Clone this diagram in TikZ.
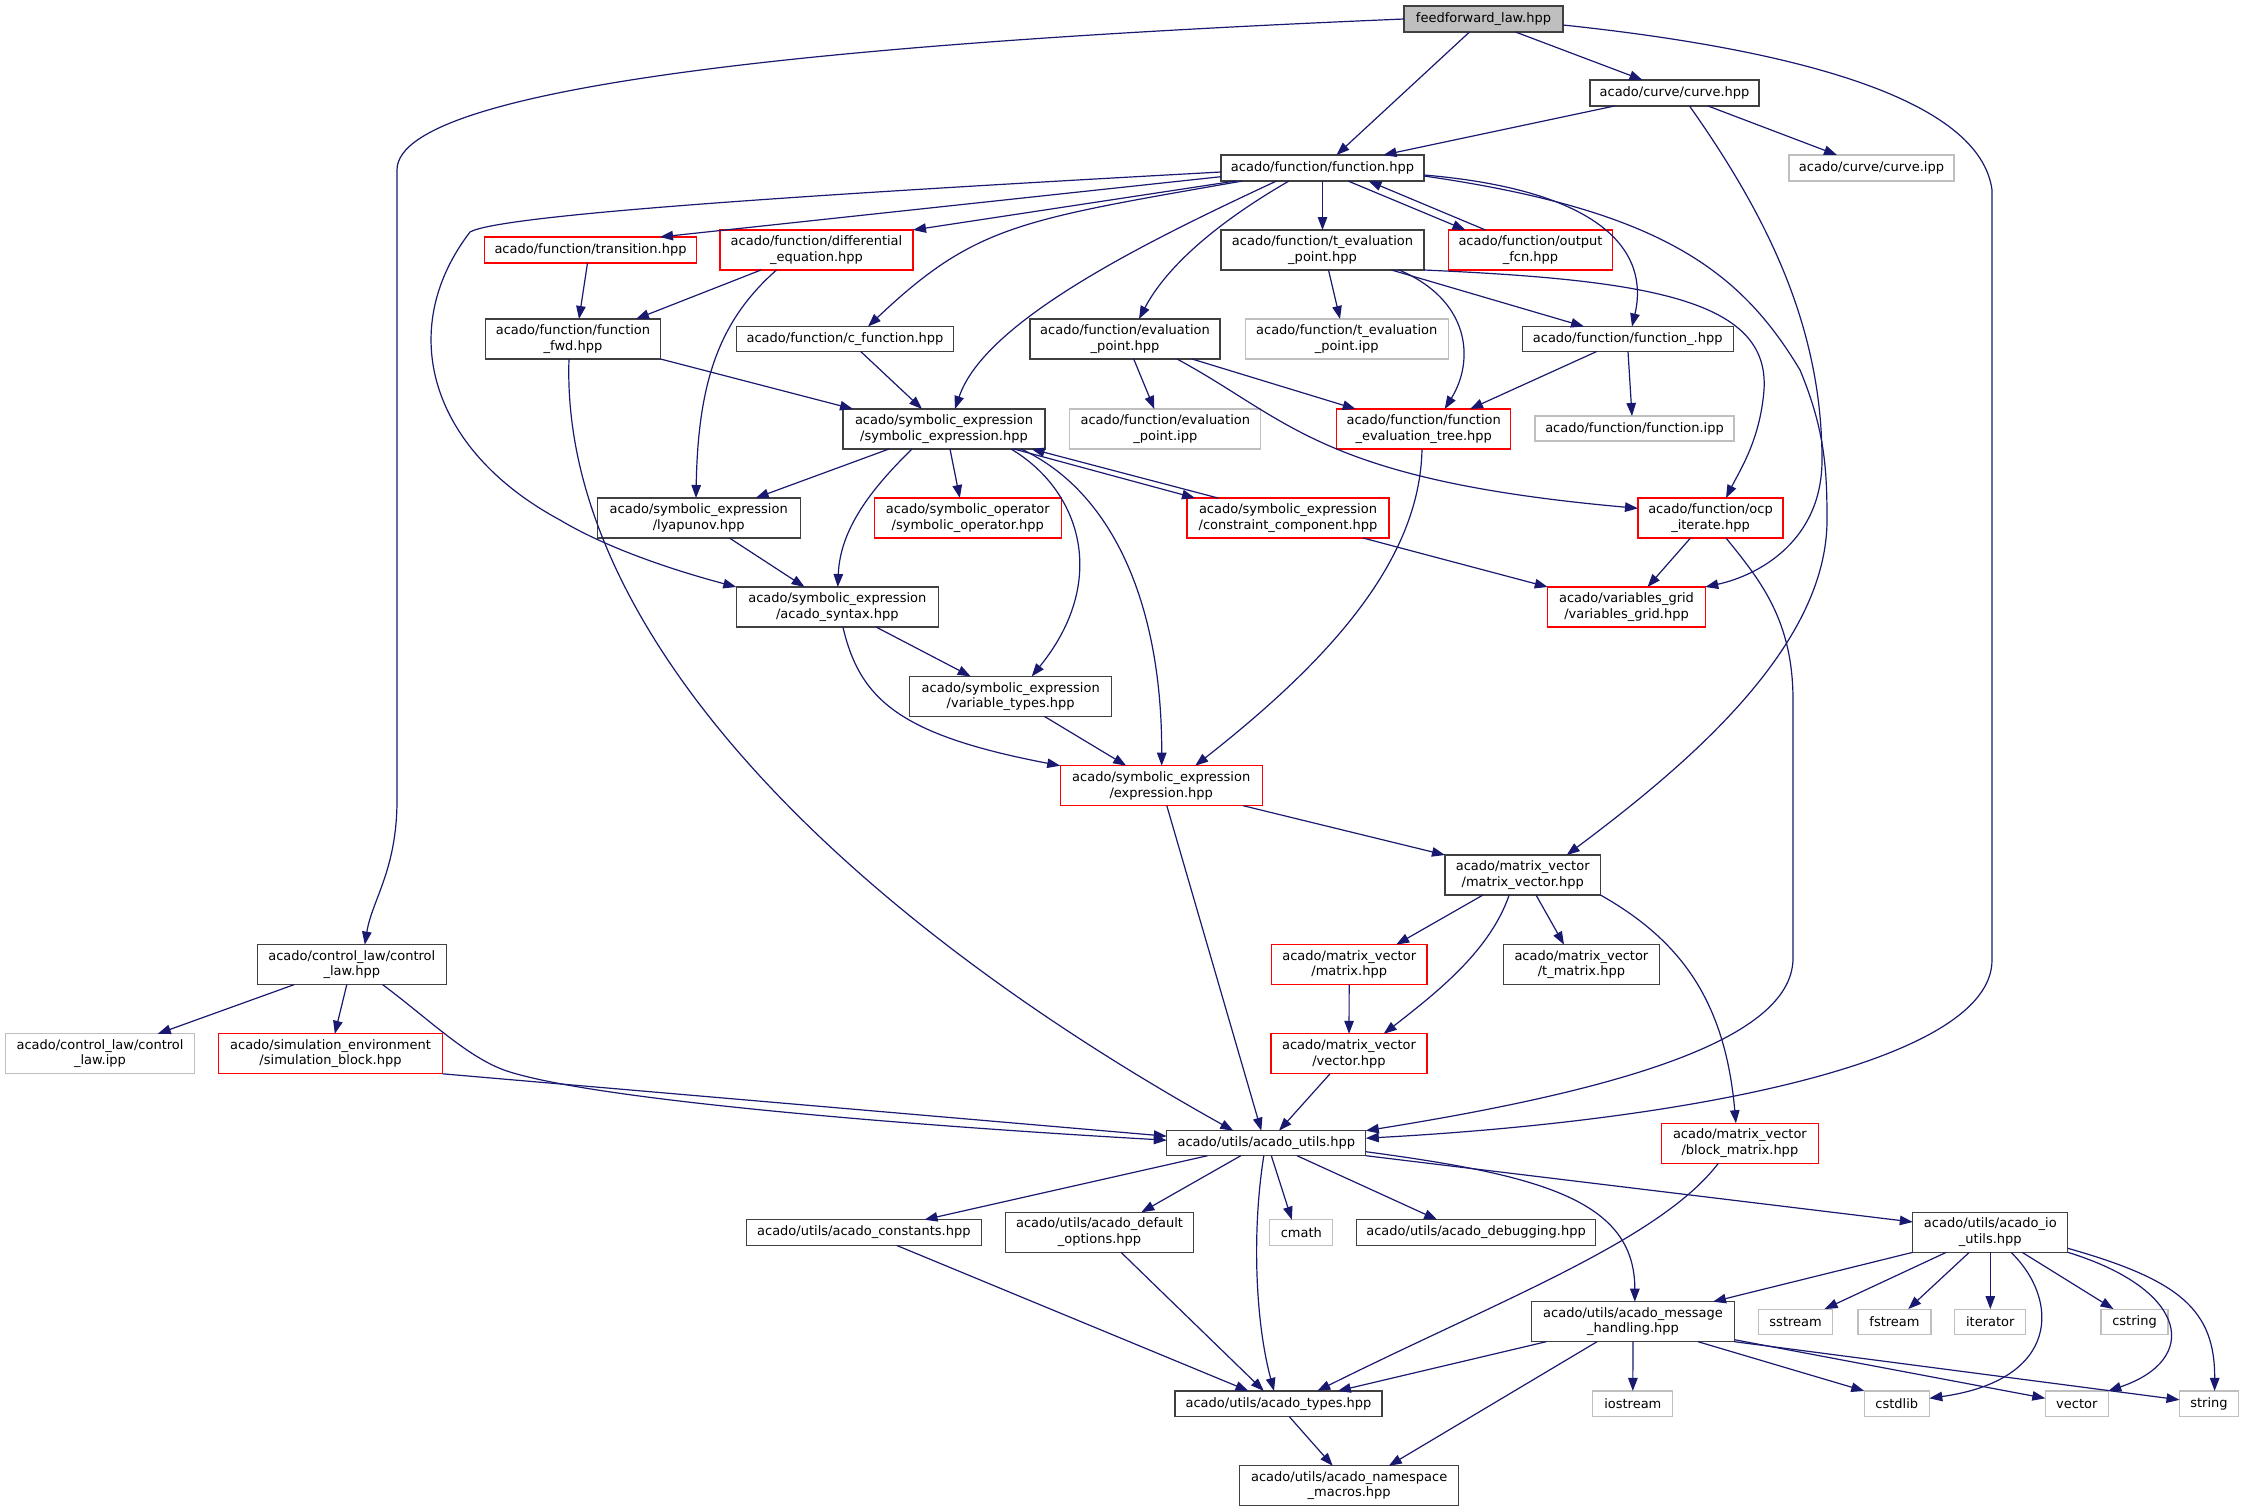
\documentclass[tikz,border=0pt]{standalone}
\usepackage{fontspec}
\setmainfont{DejaVu Sans}
\usetikzlibrary{arrows.meta}
\definecolor{edgec}{HTML}{191970}
\definecolor{greyc}{HTML}{BFBFBF}
\definecolor{bordc}{HTML}{404040}
\begin{document}
\begin{tikzpicture}[x=1pt,y=-1pt,
 box/.style 2 args={draw=bordc, fill=white, rectangle, line width=1.1pt, inner sep=0pt, outer sep=0pt, align=center, minimum width=#1, minimum height=#2, font=\fontsize{13}{15.5}\selectfont},
 nb/.style 2 args={box={#1}{#2}},
 nr/.style 2 args={box={#1}{#2}, draw=red},
 ng/.style 2 args={box={#1}{#2}, draw=greyc},
 nroot/.style 2 args={box={#1}{#2}, fill=greyc},
 edg/.style={draw=edgec, line width=1.2pt, -{Triangle[length=13pt,width=9.5pt]}}]
\fill[white] (0,0) rectangle (2244,1512);
\useasboundingbox (0,0) rectangle (2244,1512);

\node[nroot={159pt}{26pt}] (ff) at (1483.5,19) {feedforward\_law.hpp};
\node[nb={169pt}{26pt}] (curve) at (1674.5,93) {acado/curve/curve.hpp};
\node[ng={165pt}{26pt}] (curveipp) at (1871.5,168) {acado/curve/curve.ipp};
\node[nb={203pt}{26pt}] (func) at (1322.5,168) {acado/function/function.hpp};
\node[nr={212pt}{26pt}] (trans) at (590.5,250) {acado/function/transition.hpp};
\node[nr={193pt}{40pt}] (diffeq) at (816.5,250) {acado/function/differential\\\_equation.hpp};
\node[nb={203pt}{40pt}] (teval) at (1322.5,250) {acado/function/t\_evaluation\\\_point.hpp};
\node[nr={164pt}{40pt}] (outfcn) at (1530.5,250) {acado/function/output\\\_fcn.hpp};
\node[nb={175pt}{40pt}] (fwd) at (573,339) {acado/function/function\\\_fwd.hpp};
\node[nb={217pt}{25pt}] (cfunc) at (845,339) {acado/function/c\_function.hpp};
\node[nb={190pt}{40pt}] (evalpt) at (1125,339) {acado/function/evaluation\\\_point.hpp};
\node[ng={203pt}{40pt}] (tevalipp) at (1346.7,339) {acado/function/t\_evaluation\\\_point.ipp};
\node[nb={211pt}{25pt}] (funcu) at (1627.7,339) {acado/function/function\_.hpp};
\node[nb={202pt}{40pt}] (symexp) at (944,429) {acado/symbolic\_expression\\/symbolic\_expression.hpp};
\node[ng={191pt}{40pt}] (evalptipp) at (1165.3,429) {acado/function/evaluation\\\_point.ipp};
\node[nr={174pt}{40pt}] (evaltree) at (1423.7,429) {acado/function/function\\\_evaluation\_tree.hpp};
\node[ng={199pt}{25pt}] (funcipp) at (1634.5,428.5) {acado/function/function.ipp};
\node[nb={203pt}{40pt}] (lyap) at (698.7,518) {acado/symbolic\_expression\\/lyapunov.hpp};
\node[nr={187pt}{40pt}] (symop) at (967.8,518) {acado/symbolic\_operator\\/symbolic\_operator.hpp};
\node[nr={202pt}{40pt}] (constr) at (1288,518) {acado/symbolic\_expression\\/constraint\_component.hpp};
\node[nr={145pt}{40pt}] (ocp) at (1710.5,518) {acado/function/ocp\\\_iterate.hpp};
\node[nb={202pt}{40pt}] (syntax) at (837.3,607) {acado/symbolic\_expression\\/acado\_syntax.hpp};
\node[nr={157.5pt}{40pt}] (vgrid) at (1626.5,607) {acado/variables\_grid\\/variables\_grid.hpp};
\node[nb={202pt}{40pt}] (vtypes) at (1010.7,696.4) {acado/symbolic\_expression\\/variable\_types.hpp};
\node[nr={202pt}{40pt}] (expr) at (1161.2,785.7) {acado/symbolic\_expression\\/expression.hpp};
\node[nb={155.5pt}{40pt}] (mv) at (1522.7,875) {acado/matrix\_vector\\/matrix\_vector.hpp};
\node[nb={189pt}{40pt}] (claw) at (351.8,964.6) {acado/control\_law/control\\\_law.hpp};
\node[nr={155.6pt}{40pt}] (matrix) at (1349.2,964.6) {acado/matrix\_vector\\/matrix.hpp};
\node[nb={155.4pt}{40pt}] (tmatrix) at (1581.4,964.6) {acado/matrix\_vector\\/t\_matrix.hpp};
\node[ng={189.4pt}{40pt}] (clawipp) at (100,1053.8) {acado/control\_law/control\\\_law.ipp};
\node[nr={223.8pt}{40pt}] (simblock) at (330.5,1053.8) {acado/simulation\_environment\\/simulation\_block.hpp};
\node[nr={156pt}{40pt}] (vectorh) at (1349,1053.8) {acado/matrix\_vector\\/vector.hpp};
\node[nr={156.5pt}{40pt}] (blockm) at (1739.9,1143.2) {acado/matrix\_vector\\/block\_matrix.hpp};
\node[nb={199pt}{25pt}] (utils) at (1266.3,1143.2) {acado/utils/acado\_utils.hpp};
\node[nb={234.7pt}{25.6pt}] (consts) at (863.8,1232.5) {acado/utils/acado\_constants.hpp};
\node[nb={188.8pt}{40pt}] (defopt) at (1099.5,1232.3) {acado/utils/acado\_default\\\_options.hpp};
\node[ng={62.8pt}{25.6pt}] (cmath) at (1301.3,1232.5) {cmath};
\node[nb={238.7pt}{25.6pt}] (debug) at (1476,1232.5) {acado/utils/acado\_debugging.hpp};
\node[nb={155pt}{40pt}] (ioutils) at (1990.3,1232.3) {acado/utils/acado\_io\\\_utils.hpp};
\node[nb={203pt}{40pt}] (msg) at (1633,1321.7) {acado/utils/acado\_message\\\_handling.hpp};
\node[ng={74.4pt}{25.3pt}] (sstream) at (1795.6,1321.7) {sstream};
\node[ng={73pt}{25.3pt}] (fstream) at (1894.5,1321.7) {fstream};
\node[ng={71pt}{25.3pt}] (iterator) at (1990.3,1321.7) {iterator};
\node[ng={67pt}{25.3pt}] (cstring) at (2134.5,1321.7) {cstring};
\node[nb={207pt}{25.7pt}] (types) at (1278.5,1403.8) {acado/utils/acado\_types.hpp};
\node[ng={80pt}{25.7pt}] (iostream) at (1632.8,1403.8) {iostream};
\node[ng={65pt}{25.7pt}] (cstdlib) at (1896.8,1403.8) {cstdlib};
\node[ng={63pt}{25.7pt}] (vector) at (2076.8,1403.8) {vector};
\node[ng={59pt}{25.7pt}] (string) at (2209,1403.8) {string};
\node[nb={219pt}{40pt}] (nsmacros) at (1349.2,1485.8) {acado/utils/acado\_namespace\\\_macros.hpp};

% feedforward
\draw[edg] ([xshift=-14pt]ff.south) -- ([xshift=14pt]func.north);
\draw[edg] ([xshift=32pt]ff.south) -- ([xshift=-32pt]curve.north);
\draw[edg] (ff.west) .. controls (900,40) and (397,80) .. (397,170) -- (397,800) .. controls (397,870) and (372,900) .. ([xshift=13pt]claw.north);
\draw[edg] ([yshift=-6pt]ff.east) .. controls (1800,50) and (1980,100) .. (1992,190) -- (1992,960) .. controls (1992,1060) and (1700,1120) .. ([yshift=5pt]utils.east);
% curve
\draw[edg] ([xshift=-60pt]curve.south) -- ([xshift=61pt]func.north);
\draw[edg] ([xshift=33.5pt]curve.south) -- ([xshift=-34.5pt]curveipp.north);
\draw[edg] ([xshift=15pt]curve.south) .. controls (1770,220) and (1822,330) .. (1822,460) .. controls (1822,540) and (1760,575) .. (vgrid.north east);
% function.hpp
\draw[edg] ([yshift=-8.7pt]func.west) -- ([xshift=69.5pt]trans.north);
\draw[edg] ([xshift=-87pt]func.south) -- (diffeq.north east);
\draw[edg] ([xshift=-80pt]func.south) .. controls (1020,220) and (975,225) .. ([xshift=23pt]cfunc.north);
\draw[edg] ([xshift=-46pt]func.south) .. controls (1150,240) and (985,320) .. ([xshift=11pt]symexp.north);
\draw[edg] ([xshift=-33.5pt]func.south) .. controls (1230,215) and (1170,260) .. ([xshift=14pt]evalpt.north);
\draw[edg] (func) -- (teval);
\draw[edg] ([xshift=25.5pt]func.south) -- ([xshift=-65pt]outfcn.north);
\draw[edg] ([xshift=-45pt]outfcn.north) -- ([xshift=46pt]func.south);
\draw[edg] ([yshift=-7pt]func.east) .. controls (1600,190) and (1650,250) .. ([xshift=4.3pt]funcu.north);
\draw[edg] ([yshift=-8pt]func.east) .. controls (1660,210) and (1740,270) .. (1800,370) .. controls (1825,430) and (1827,470) .. (1827,520) .. controls (1827,650) and (1680,770) .. ([xshift=44pt]mv.north);
\draw[edg] ([yshift=-4pt]func.west) .. controls (800,195) and (500,215) .. (470,232) .. controls (395,330) and (430,450) .. (560,520) .. controls (610,550) and (680,572) .. (syntax.north west);
% second row
\draw[edg] ([xshift=-3pt]trans.south) -- ([xshift=6pt]fwd.north);
\draw[edg] ([xshift=-55.5pt]diffeq.south) -- ([xshift=63pt]fwd.north);
\draw[edg] ([xshift=-40pt]diffeq.south) .. controls (720,320) and (698,380) .. ([xshift=-2.7pt]lyap.north);
\draw[edg] (fwd.south east) -- ([xshift=-91pt]symexp.north);
\draw[edg] ([xshift=-4pt]fwd.south) .. controls (560,620) and (820,900) .. ([xshift=-33pt]utils.north);
\draw[edg] ([xshift=15.7pt]cfunc.south) -- ([xshift=-22pt]symexp.north);
\draw[edg] ([xshift=6pt]teval.south) -- ([xshift=-6.7pt]tevalipp.north);
\draw[edg] ([xshift=76.5pt]teval.south) .. controls (1470,300) and (1475,360) .. ([xshift=21pt]evaltree.north);
\draw[edg] ([xshift=69pt]teval.south) -- ([xshift=-43.7pt]funcu.north);
\draw[edg] (teval.south east) .. controls (1650,280) and (1770,300) .. (1764,390) .. controls (1760,440) and (1740,470) .. ([xshift=15.5pt]ocp.north);
\draw[edg] ([xshift=8.7pt]evalpt.south) -- ([xshift=-11pt]evalptipp.north);
\draw[edg] ([xshift=67pt]evalpt.south) -- ([xshift=-68pt]evaltree.north);
\draw[edg] ([xshift=52pt]evalpt.south) .. controls (1290,420) and (1320,480) .. ([yshift=9.7pt]ocp.west);
\draw[edg] ([xshift=-31pt]funcu.south) -- ([xshift=46.3pt]evaltree.north);
\draw[edg] ([xshift=0.3pt]funcu.south) -- ([xshift=-2.5pt]funcipp.north);
% symbolic expression
\draw[edg] ([xshift=-55pt]symexp.south) -- ([xshift=57pt]lyap.north);
\draw[edg] ([xshift=-32pt]symexp.south) .. controls (870,490) and (840,530) .. ([xshift=0.5pt]syntax.north);
\draw[edg] ([xshift=6pt]symexp.south) -- ([xshift=-8pt]symop.north);
\draw[edg] ([xshift=67pt]symexp.south) .. controls (1080,490) and (1110,580) .. ([xshift=21pt]vtypes.north);
\draw[edg] ([xshift=77pt]symexp.south) .. controls (1110,490) and (1162,600) .. ([xshift=0.5pt]expr.north);
\draw[edg] ([xshift=70pt]symexp.south) -- ([xshift=-93pt]constr.north);
\draw[edg] ([xshift=-70pt]constr.north) -- ([xshift=87.6pt]symexp.south);
\draw[edg] ([xshift=30.7pt]lyap.south) -- ([xshift=-32.7pt]syntax.north);
\draw[edg] ([xshift=38.7pt]syntax.south) -- ([xshift=-40pt]vtypes.north);
\draw[edg] ([xshift=5.6pt]syntax.south) .. controls (860,700) and (900,735) .. (expr.north west);
\draw[edg] ([xshift=33.7pt]vtypes.south) -- ([xshift=-35pt]expr.north);
\draw[edg] ([xshift=75pt]constr.south) -- (vgrid.north west);
\draw[edg] ([xshift=-1.7pt]evaltree.south) .. controls (1420,560) and (1330,660) .. ([xshift=34pt]expr.north);
\draw[edg] ([xshift=-20pt]ocp.south) -- ([xshift=21pt]vgrid.north);
\draw[edg] ([xshift=15.5pt]ocp.south) .. controls (1760,580) and (1793,620) .. (1793,700) -- (1793,960) .. controls (1790,1040) and (1620,1090) .. (utils.north east);
% expression / matrix
\draw[edg] ([xshift=82pt]expr.south) -- (mv.north west);
\draw[edg] ([xshift=5.6pt]expr.south) -- ([xshift=-5pt]utils.north);
\draw[edg] ([xshift=-39.7pt]mv.south) -- ([xshift=47pt]matrix.north);
\draw[edg] ([xshift=-13.5pt]mv.south) .. controls (1490,950) and (1440,990) .. ([xshift=34.7pt]vectorh.north);
\draw[edg] ([xshift=13.3pt]mv.south) -- ([xshift=-17.4pt]tmatrix.north);
\draw[edg] (mv.south east) .. controls (1680,940) and (1725,1000) .. ([xshift=-4pt]blockm.north);
\draw[edg] (matrix) -- (vectorh);
\draw[edg] ([xshift=-19pt]vectorh.south) -- ([xshift=12.7pt]utils.north);
% control law
\draw[edg] ([xshift=-57.6pt]claw.south) -- ([xshift=57.8pt]clawipp.north);
\draw[edg] ([xshift=-5pt]claw.south) -- ([xshift=4.3pt]simblock.north);
\draw[edg] ([xshift=30.8pt]claw.south) .. controls (430,1020) and (470,1060) .. (510,1072) .. controls (600,1100) and (900,1125) .. ([yshift=3pt]utils.west);
\draw[edg] (simblock.south east) -- ([yshift=7pt]utils.west);
\draw[edg] ([xshift=-21.5pt]blockm.south) .. controls (1660,1240) and (1500,1300) .. ([xshift=38.8pt]types.north);
% utils
\draw[edg] ([xshift=-58.7pt]utils.south) -- ([xshift=60.7pt]consts.north);
\draw[edg] ([xshift=-25.5pt]utils.south) -- ([xshift=41.8pt]defopt.north);
\draw[edg] ([xshift=-2.5pt]utils.south) .. controls (1252,1230) and (1255,1320) .. ([xshift=-4.5pt]types.north);
\draw[edg] ([xshift=5pt]utils.south) -- ([xshift=-9.5pt]cmath.north);
\draw[edg] ([xshift=30.7pt]utils.south) -- ([xshift=-38.8pt]debug.north);
\draw[edg] ([yshift=-8.5pt]utils.east) .. controls (1540,1175) and (1635,1200) .. ([xshift=1.8pt]msg.north);
\draw[edg] (utils.south east) -- ([yshift=10.3pt]ioutils.west);
\draw[edg] ([xshift=32.6pt]consts.south) -- ([xshift=-30pt]types.north);
\draw[edg] ([xshift=21.5pt]defopt.south) -- ([xshift=-14.7pt]types.north);
\draw[edg] ([xshift=10.8pt]types.south) -- ([xshift=-16.5pt]nsmacros.north);
% message handling
\draw[edg] ([xshift=-86.8pt]msg.south) -- ([xshift=59.3pt]types.north);
\draw[edg] ([xshift=-36pt]msg.south) -- ([xshift=39.6pt]nsmacros.north);
\draw[edg] (msg) -- (iostream);
\draw[edg] ([xshift=65pt]msg.south) -- (cstdlib.north west);
\draw[edg] ([yshift=-18pt]msg.east) -- ([yshift=5.5pt]vector.west);
\draw[edg] (msg.south east) -- ([yshift=4pt]string.west);
% io utils
\draw[edg] (ioutils.south west) -- ([xshift=80pt]msg.north);
\draw[edg] ([xshift=-44pt]ioutils.south) -- ([xshift=29pt]sstream.north);
\draw[edg] ([xshift=-21pt]ioutils.south) -- ([xshift=13.7pt]fstream.north);
\draw[edg] (ioutils) -- (iterator);
\draw[edg] ([xshift=31.8pt]ioutils.south) -- ([xshift=-21pt]cstring.north);
\draw[edg] ([xshift=20.7pt]ioutils.south) .. controls (2060,1300) and (2060,1380) .. ([yshift=5.5pt]cstdlib.east);
\draw[edg] (ioutils.south east) .. controls (2190,1290) and (2200,1360) .. (vector.north east);
\draw[edg] ([yshift=-16pt]ioutils.east) .. controls (2180,1280) and (2215,1310) .. ([xshift=5.6pt]string.north);
\end{tikzpicture}
\end{document}
